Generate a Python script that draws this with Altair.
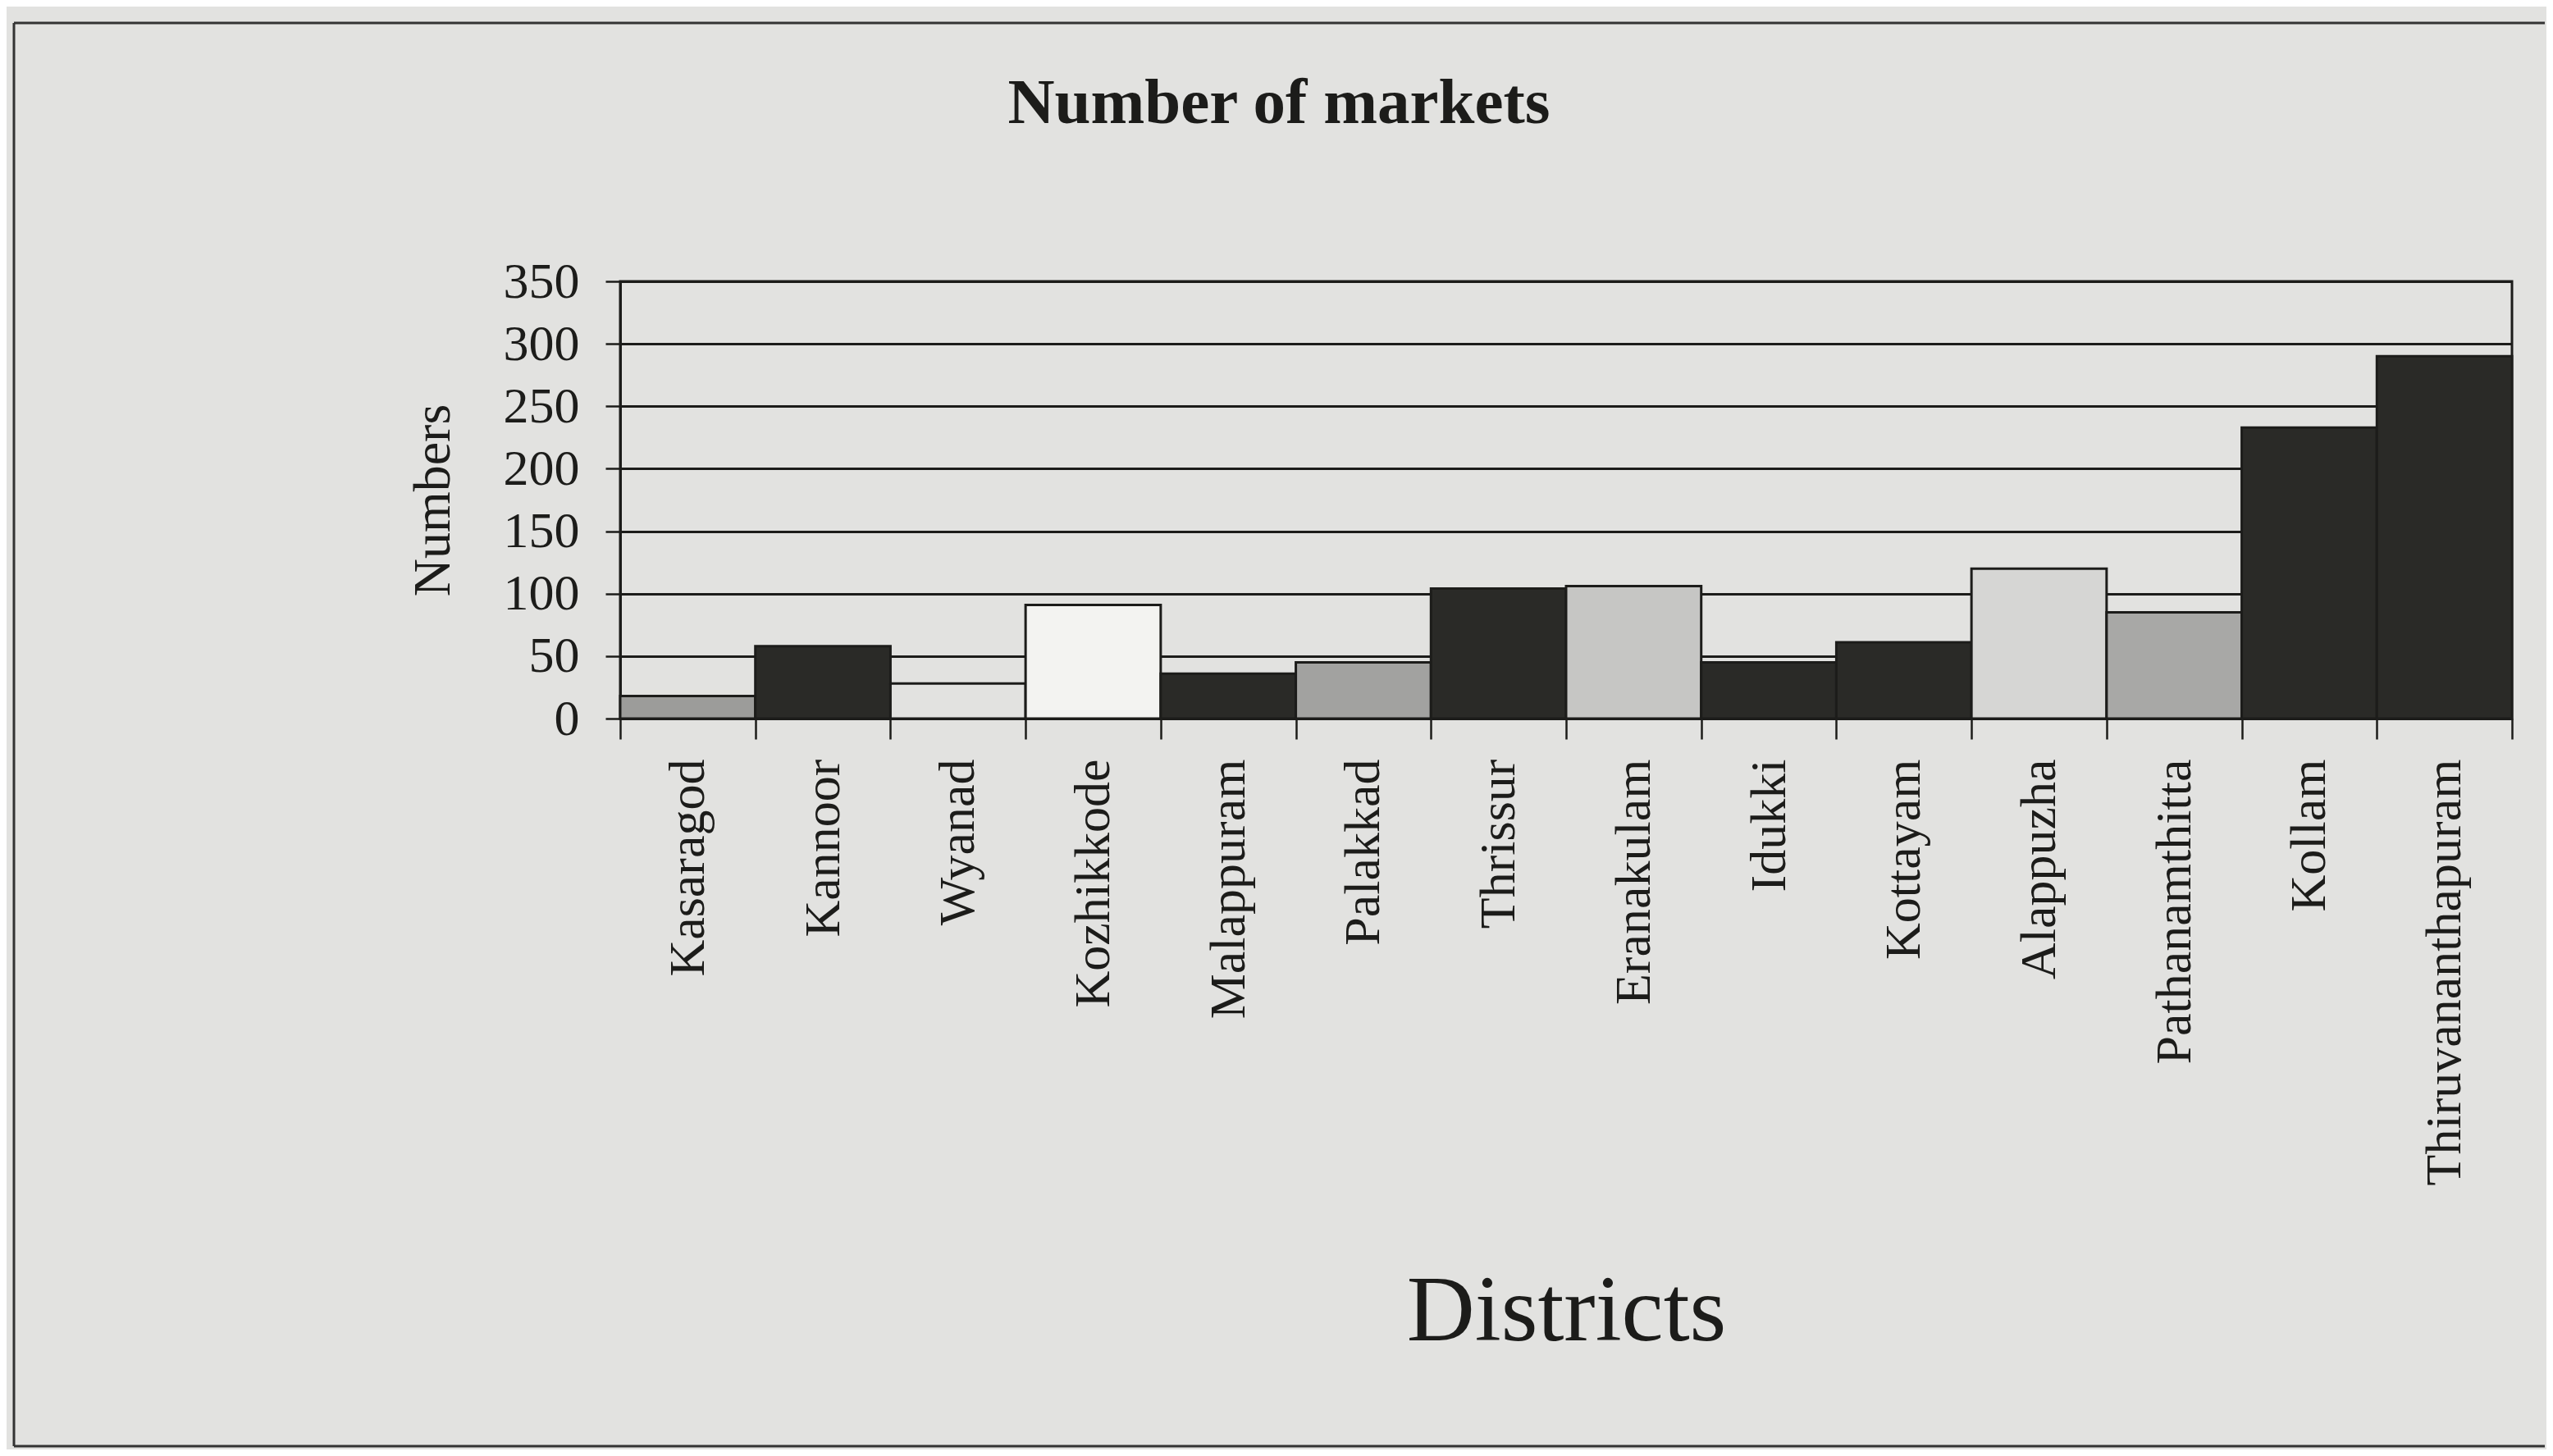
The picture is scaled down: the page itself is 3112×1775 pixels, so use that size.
import altair as alt
import pandas as pd

districts = ["Kasaragod", "Kannoor", "Wyanad", "Kozhikkode", "Malappuram", "Palakkad",
             "Thrissur", "Eranakulam", "Idukki", "Kottayam", "Alappuzha", "Pathanamthitta",
             "Kollam", "Thiruvananthapuram"]
markets = [18, 58, 28, 91, 36, 45, 104, 106, 45, 61, 120, 85, 233, 290]
y_ticks = [0, 50, 100, 150, 200, 250, 300, 350]
chart_title = ["Number of markets"]

bar_colors = ["#9c9c9a", "#2a2a27", "#e2e2e0", "#f3f3f1", "#2a2a27", "#a2a2a0",
              "#2a2a27", "#c6c6c4", "#2a2a27", "#2a2a27", "#d6d6d4", "#a8a8a6",
              "#2a2a27", "#2a2a27"]

df = pd.DataFrame({"District": districts, "Markets": markets})

INK = "#1c1c1a"
SERIF = "Liberation Serif"
W, H = 2306, 533

bars = alt.Chart(df).mark_bar(stroke=INK, strokeWidth=3).encode(
    x=alt.X("District:N", sort=districts,
            scale=alt.Scale(paddingInner=0, paddingOuter=0),
            axis=alt.Axis(title="Districts", labelAngle=-90, labelFont=SERIF,
                          labelFontSize=62, labelColor=INK, tickBand="extent",
                          tickSize=25, tickColor=INK, tickWidth=2.5,
                          domainColor=INK, domainWidth=3, labelPadding=24,
                          labelLimit=0,
                          titleFont=SERIF, titleFontSize=115, titleFontWeight="normal",
                          titleColor=INK, titleY=722, titleBaseline="middle",
                          grid=False, labelOverlap=False)),
    y=alt.Y("Markets:Q", scale=alt.Scale(domain=[0, 350], nice=False),
            axis=alt.Axis(values=y_ticks, title="Numbers", labelFont=SERIF,
                          labelFontSize=62, labelColor=INK, tickSize=18,
                          tickColor=INK, tickWidth=2.5, domainColor=INK,
                          domainWidth=3, labelPadding=32, grid=True,
                          gridColor=INK, gridWidth=3, titleFont=SERIF,
                          titleFontSize=64, titleFontWeight="normal",
                          titleColor=INK, titleX=-228, titleBaseline="middle")),
    color=alt.Color("District:N", scale=alt.Scale(domain=districts, range=bar_colors),
                    legend=None),
)

title_df = pd.DataFrame({"t": chart_title})
title = alt.Chart(title_df).mark_text(
    font=SERIF, fontSize=79, fontWeight="bold", color=INK,
    align="center", baseline="middle").encode(
    text="t:N", x=alt.value(803), y=alt.value(-217))

frame_df = pd.DataFrame({"k": [0]})
frame_left = alt.Chart(frame_df).mark_rule(color="#333", strokeWidth=3).encode(
    x=alt.value(-739), y=alt.value(-315), y2=alt.value(1420))
frame_top = alt.Chart(frame_df).mark_rule(color="#333", strokeWidth=3).encode(
    x=alt.value(-739), x2=alt.value(2346), y=alt.value(-315))
frame_bottom = alt.Chart(frame_df).mark_rule(color="#333", strokeWidth=3).encode(
    x=alt.value(-739), x2=alt.value(2346), y=alt.value(1420))

chart = alt.layer(bars, title, frame_left, frame_top, frame_bottom).properties(
    width=W, height=H,
    autosize=alt.AutoSizeParams(type="none"),
    padding={"left": 748, "top": 335, "right": 42, "bottom": 891},
).configure(background="#e2e2e0").configure_view(stroke=INK, strokeWidth=3)

chart.save("out.html", embed_options={"renderer": "svg", "actions": False})
